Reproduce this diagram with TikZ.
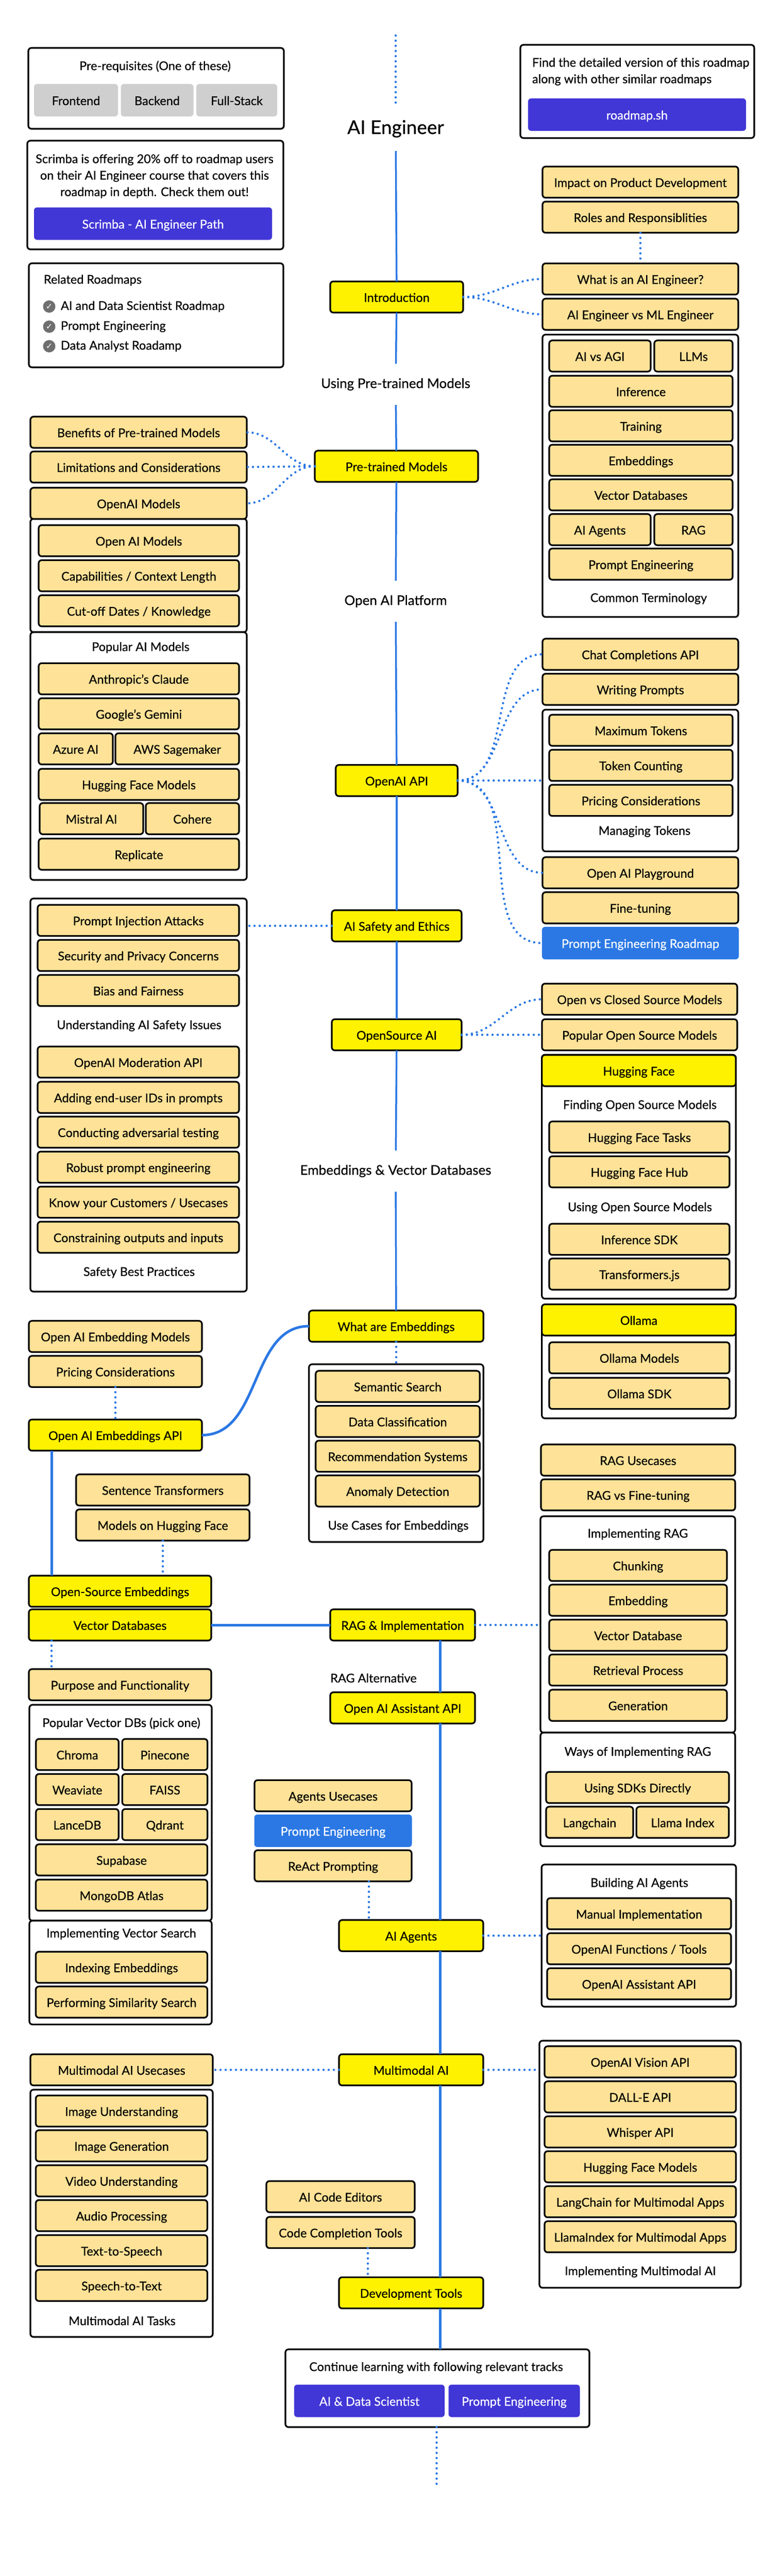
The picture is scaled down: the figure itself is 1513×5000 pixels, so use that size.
\documentclass[tikz,border=0pt]{standalone}
\usepackage{fontspec}
\setmainfont{Lato}[FakeBold=0.5]
\newfontfamily\symb{DejaVu Sans}
\usetikzlibrary{arrows,calc}

\definecolor{roadblue}{HTML}{2B78E4}
\definecolor{roadindigo}{HTML}{4136D6}
\definecolor{roadsand}{HTML}{FEE297}
\definecolor{roadgrey}{HTML}{CFCFCF}
\definecolor{roadcheck}{HTML}{6F6F6F}

\begin{document}
\begin{tikzpicture}[x=1pt, y=-1pt]
    \tikzstyle{every node}=[font=\fontsize{23.5}{32}\selectfont, outer sep=0pt]
    \tikzstyle{box}=[rectangle, rounded corners=6pt, draw=black, line width=3.2pt, minimum height=60.5, text height=19pt, text depth=0pt, inner sep=0pt]
    \tikzstyle{item}=[box, fill=roadsand]
    \tikzstyle{topic}=[box, fill=yellow]
    \tikzstyle{frame}=[box, fill=white]
    \tikzstyle{chip}=[rectangle, rounded corners=6pt, fill=roadgrey, minimum height=63, text height=19pt, text depth=0pt, inner sep=0pt]
    \tikzstyle{indigo}=[chip, fill=roadindigo, text=white]
    \tikzstyle{sky}=[chip, fill=roadblue, text=white]
    \tikzstyle{caption}=[inner sep=0pt]
    \tikzstyle{heading}=[inner sep=0pt, minimum height=80, font=\fontsize{26}{32}\selectfont]
    \tikzstyle{tick}=[circle, fill=roadcheck, text=white, minimum size=24, inner sep=0pt, font=\fontsize{16}{16}\symb]
    \tikzstyle{spine}=[draw=roadblue, line width=3.5pt]
    \tikzstyle{thickspine}=[draw=roadblue, line width=5pt]
    \tikzstyle{dots}=[draw=roadblue, line width=4.5pt, line cap=round, dash pattern=on 0pt off 10pt]

    \useasboundingbox (0,0) rectangle (1513,5000);

    \node[frame, minimum width=496, minimum height=157] (prereq) at (303,171.5) {};
    \node[caption] (prereqtext) at (301,129) {Pre-requisites (One of these)};
    \node[chip, minimum width=163] (frontend) at (147.5,194.5) {Frontend};
    \node[chip, minimum width=141] (backend) at (305,194.5) {Backend};
    \node[chip, minimum width=157] (fullstack) at (459.5,194.5) {Full-Stack};

    \node[frame, minimum width=454, minimum height=181] (detailed) at (1237,177.5) {};
    \node[caption, align=left, anchor=west] (detailedtext) at (1033,139) {Find the detailed version of this roadmap\\along with other similar roadmaps};
    \node[indigo, minimum width=423] (roadmapsh) at (1236.5,222.5) {roadmap.sh};

    \node[frame, minimum width=497, minimum height=211] (scrimba) at (301.5,378.5) {};
    \node[caption, align=center] (scrimbatext) at (300,342) {Scrimba is offering 20\% off to roadmap users\\on their AI Engineer course that covers this\\roadmap in depth. Check them out!};
    \node[indigo, minimum width=462] (scrimbapath) at (297,434) {Scrimba - AI Engineer Path};

    \node[frame, minimum width=494, minimum height=202] (related) at (303,612) {};
    \node[caption, anchor=west] (relatedtext) at (85,544) {Related Roadmaps};
    \node[tick] (tickA) at (95.5,595) {✓};
    \node[tick] (tickB) at (95.5,634) {✓};
    \node[tick] (tickC) at (95.5,672) {✓};
    \node[caption, anchor=west] (relatedA) at (118,595) {AI and Data Scientist Roadmap};
    \node[caption, anchor=west] (relatedB) at (118,634) {Prompt Engineering};
    \node[caption, anchor=west] (relatedC) at (118,672) {Data Analyst Roadamp};

    \node[heading, minimum height=86, font=\fontsize{37}{40}\selectfont] (title) at (768,250) {AI Engineer};
    \node[topic, minimum width=258] (intro) at (770,576.5) {Introduction};
    \node[heading] (usingmodels) at (768,746) {Using Pre-trained Models};
    \node[topic, minimum width=317] (pretrained) at (769.5,905) {Pre-trained Models};
    \node[heading] (platform) at (768,1167) {Open AI Platform};
    \node[topic, minimum width=236.5] (openaiapi) at (770,1515) {OpenAI API};
    \node[topic, minimum width=252] (safety) at (770,1797) {AI Safety and Ethics};
    \node[topic, minimum width=252] (opensource) at (770,2008.5) {OpenSource AI};
    \node[heading] (embedheading) at (768,2273) {Embeddings \& Vector Databases};
    \node[topic, minimum width=338.5] (whatemb) at (769,2574) {What are Embeddings};

    \node[item, minimum width=380] (impact) at (1243,353.5) {Impact on Product Development};
    \node[item, minimum width=380] (roles) at (1243,421.5) {Roles and Responsiblities};
    \node[item, minimum width=380] (whatis) at (1243,541.5) {What is an AI Engineer?};
    \node[item, minimum width=380] (mlvs) at (1243,610) {AI Engineer vs ML Engineer};

    \node[frame, minimum width=380, minimum height=548] (terms) at (1243,923.5) {};
    \node[item, minimum width=197] (aivsagi) at (1164.5,691) {AI vs AGI};
    \node[item, minimum width=152] (llms) at (1346,691) {LLMs};
    \node[item, minimum width=356] (inference) at (1244,759.5) {Inference};
    \node[item, minimum width=356] (training) at (1244,826.5) {Training};
    \node[item, minimum width=356] (embeddings) at (1244,893.5) {Embeddings};
    \node[item, minimum width=356] (vectordbs) at (1244,960.5) {Vector Databases};
    \node[item, minimum width=197] (aiagentsT) at (1164.5,1028) {AI Agents};
    \node[item, minimum width=152] (ragT) at (1346,1028) {RAG};
    \node[item, minimum width=356] (promptT) at (1244,1095) {Prompt Engineering};
    \node[caption] (termstext) at (1259,1162) {Common Terminology};

    \node[item, minimum width=420] (benefits) at (269,839) {Benefits of Pre-trained Models};
    \node[item, minimum width=420] (limits) at (269,906.5) {Limitations and Considerations};
    \node[frame, minimum width=420, minimum height=220] (openaiframe) at (269,1117) {};
    \node[item, minimum width=420] (openaimodels) at (269,977) {OpenAI Models};
    \node[item, minimum width=389] (openmodels) at (269.5,1049.5) {Open AI Models};
    \node[item, minimum width=389] (capabilities) at (269.5,1117.5) {Capabilities / Context Length};
    \node[item, minimum width=389] (cutoff) at (269.5,1185.5) {Cut-off Dates / Knowledge};

    \node[frame, minimum width=420, minimum height=481] (popular) at (269,1467.5) {};
    \node[caption] (populartext) at (273,1257) {Popular AI Models};
    \node[item, minimum width=389] (anthropic) at (269.5,1317.5) {Anthropic's Claude};
    \node[item, minimum width=389] (gemini) at (269.5,1385.5) {Google's Gemini};
    \node[item, minimum width=144] (azure) at (147,1453.5) {Azure AI};
    \node[item, minimum width=240] (aws) at (344,1453.5) {AWS Sagemaker};
    \node[item, minimum width=389] (hfmodelsA) at (269.5,1522.5) {Hugging Face Models};
    \node[item, minimum width=201] (mistral) at (177.5,1589) {Mistral AI};
    \node[item, minimum width=181] (cohere) at (373.5,1589) {Cohere};
    \node[item, minimum width=389] (replicate) at (269.5,1658) {Replicate};

    \node[item, minimum width=380] (chat) at (1243,1270) {Chat Completions API};
    \node[item, minimum width=380] (writing) at (1243,1338) {Writing Prompts};
    \node[frame, minimum width=380, minimum height=275] (tokens) at (1243,1515) {};
    \node[item, minimum width=356] (maxtokens) at (1244,1417.5) {Maximum Tokens};
    \node[item, minimum width=356] (counting) at (1244,1485.5) {Token Counting};
    \node[item, minimum width=356] (pricing) at (1244,1553.5) {Pricing Considerations};
    \node[caption] (tokenstext) at (1251,1614) {Managing Tokens};
    \node[item, minimum width=380] (playground) at (1243,1694) {Open AI Playground};
    \node[item, minimum width=380] (finetuning) at (1243,1762) {Fine-tuning};
    \node[sky, minimum width=382] (promptroad) at (1243,1830.5) {Prompt Engineering Roadmap};

    \node[frame, minimum width=420, minimum height=763] (safetyframe) at (269,2125.5) {};
    \node[item, minimum width=391] (injection) at (268.5,1786.5) {Prompt Injection Attacks};
    \node[item, minimum width=391] (security) at (268.5,1854.5) {Security and Privacy Concerns};
    \node[item, minimum width=391] (bias) at (268.5,1922.5) {Bias and Fairness};
    \node[caption] (issuestext) at (270,1991) {Understanding AI Safety Issues};
    \node[item, minimum width=391] (moderation) at (268.5,2061.5) {OpenAI Moderation API};
    \node[item, minimum width=391] (adding) at (268.5,2130) {Adding end-user IDs in prompts};
    \node[item, minimum width=391] (conducting) at (268.5,2197.5) {Conducting adversarial testing};
    \node[item, minimum width=391] (robust) at (268.5,2265.5) {Robust prompt engineering};
    \node[item, minimum width=391] (know) at (268.5,2333.5) {Know your Customers / Usecases};
    \node[item, minimum width=391] (constraining) at (268.5,2401.5) {Constraining outputs and inputs};
    \node[caption] (practicestext) at (270,2470) {Safety Best Practices};

    \node[item, minimum width=379] (openclosed) at (1241.5,1939.5) {Open vs Closed Source Models};
    \node[item, minimum width=379] (popularopen) at (1241.5,2008.5) {Popular Open Source Models};

    \node[frame, minimum width=376.5, minimum height=473.5] (hfframe) at (1240,2284) {};
    \node[topic, minimum width=376.5] (hugging) at (1240,2078) {Hugging Face};
    \node[caption] (findingtext) at (1242,2146) {Finding Open Source Models};
    \node[item, minimum width=350] (hftasks) at (1241,2207) {Hugging Face Tasks};
    \node[item, minimum width=350] (hfhub) at (1241,2274.5) {Hugging Face Hub};
    \node[caption] (usingtext) at (1242,2344.5) {Using Open Source Models};
    \node[item, minimum width=350] (infersdk) at (1241,2405.5) {Inference SDK};
    \node[item, minimum width=350] (transformers) at (1241,2473) {Transformers.js};

    \node[frame, minimum width=376.5, minimum height=221] (ollamaframe) at (1240,2642.5) {};
    \node[topic, minimum width=376.5] (ollama) at (1240,2562) {Ollama};
    \node[item, minimum width=350] (ollamamodels) at (1241,2635.5) {Ollama Models};
    \node[item, minimum width=350] (ollamasdk) at (1241,2704.5) {Ollama SDK};

    \node[item, minimum width=336] (openemb) at (224,2594) {Open AI Embedding Models};
    \node[item, minimum width=336] (pricingemb) at (224,2662) {Pricing Considerations};
    \node[topic, minimum width=336] (embapi) at (224,2785.5) {Open AI Embeddings API};

    \node[frame, minimum width=338.5, minimum height=345] (usecases) at (769,2820.5) {};
    \node[item, minimum width=318.5] (semantic) at (772,2691) {Semantic Search};
    \node[item, minimum width=318.5] (dataclass) at (772,2759) {Data Classification};
    \node[item, minimum width=318.5] (recommend) at (772,2826.5) {Recommendation Systems};
    \node[item, minimum width=318.5] (anomaly) at (772,2894) {Anomaly Detection};
    \node[caption] (usecasestext) at (773,2962.5) {Use Cases for Embeddings};

    \node[item, minimum width=336.5] (sentence) at (316,2892) {Sentence Transformers};
    \node[item, minimum width=336.5] (hfmodelsB) at (316,2960) {Models on Hugging Face};
    \node[topic, minimum width=354] (oss) at (233,3088.5) {Open-Source Embeddings};
    \node[topic, minimum width=354] (vector) at (233,3154) {Vector Databases};
    \node[topic, minimum width=281] (ragimpl) at (781.5,3154) {RAG \& Implementation};
    \node[caption] (ragalt) at (725,3257) {RAG Alternative};
    \node[topic, minimum width=281] (assistant) at (781.5,3315) {Open AI Assistant API};

    \node[item, minimum width=354] (purpose) at (233,3270) {Purpose and Functionality};
    \node[frame, minimum width=354, minimum height=419] (vectorframe) at (234,3518.5) {};
    \node[caption] (vectortext) at (235.5,3345) {Popular Vector DBs (pick one)};
    \node[item, minimum width=160.5] (chroma) at (150,3405.5) {Chroma};
    \node[item, minimum width=165.5] (pinecone) at (320,3405.5) {Pinecone};
    \node[item, minimum width=160.5] (weaviate) at (150,3473.5) {Weaviate};
    \node[item, minimum width=165.5] (faiss) at (320,3473.5) {FAISS};
    \node[item, minimum width=160.5] (lancedb) at (150,3541.5) {LanceDB};
    \node[item, minimum width=165.5] (qdrant) at (320,3541.5) {Qdrant};
    \node[item, minimum width=333] (supabase) at (236,3610) {Supabase};
    \node[item, minimum width=333] (mongodb) at (236,3678.5) {MongoDB Atlas};
    \node[frame, minimum width=354, minimum height=201.4] (searchframe) at (234,3828.7) {};
    \node[caption] (searchtext) at (235.5,3754) {Implementing Vector Search};
    \node[item, minimum width=333] (indexing) at (236,3818.5) {Indexing Embeddings};
    \node[item, minimum width=333] (similarity) at (236,3886) {Performing Similarity Search};

    \node[item, minimum width=377] (ragusecases) at (1238.5,2834) {RAG Usecases};
    \node[item, minimum width=377] (ragfine) at (1238.5,2901.5) {RAG vs Fine-tuning};
    \node[frame, minimum width=378, minimum height=420] (ragframe) at (1238,3153) {};
    \node[caption] (ragtext) at (1238,2978) {Implementing RAG};
    \node[item, minimum width=345] (chunking) at (1238.5,3038.5) {Chunking};
    \node[item, minimum width=345] (embedding) at (1238.5,3106) {Embedding};
    \node[item, minimum width=345] (vectordb) at (1238.5,3174) {Vector Database};
    \node[item, minimum width=345] (retrieval) at (1238.5,3241.5) {Retrieval Process};
    \node[item, minimum width=345] (generation) at (1238.5,3310) {Generation};
    \node[frame, minimum width=378, minimum height=220.6] (waysframe) at (1238,3473.3) {};
    \node[caption] (waystext) at (1238,3401.5) {Ways of Implementing RAG};
    \node[item, minimum width=355] (sdks) at (1237.5,3469.5) {Using SDKs Directly};
    \node[item, minimum width=169] (langchain) at (1144.5,3537) {Langchain};
    \node[item, minimum width=179.5] (llamaindex) at (1325,3537) {Llama Index};

    \node[item, minimum width=305] (agentsuse) at (646.5,3485.5) {Agents Usecases};
    \node[sky, minimum width=306] (promptblue) at (646.5,3553.5) {Prompt Engineering};
    \node[item, minimum width=305] (react) at (646.5,3621.5) {ReAct Prompting};
    \node[topic, minimum width=280] (aiagents) at (798,3757) {AI Agents};

    \node[frame, minimum width=377.5, minimum height=276] (building) at (1240,3757) {};
    \node[caption] (buildingtext) at (1241,3656) {Building AI Agents};
    \node[item, minimum width=357] (manual) at (1240.5,3714.5) {Manual Implementation};
    \node[item, minimum width=357] (functions) at (1240.5,3782.5) {OpenAI Functions / Tools};
    \node[item, minimum width=357] (assistantB) at (1240.5,3850.5) {OpenAI Assistant API};

    \node[topic, minimum width=280] (multimodal) at (798,4017.5) {Multimodal AI};
    \node[item, minimum width=354] (mmuse) at (236,4017.5) {Multimodal AI Usecases};
    \node[frame, minimum width=354, minimum height=480] (mmtasks) at (236,4296) {};
    \node[item, minimum width=333] (imageU) at (236,4097.5) {Image Understanding};
    \node[item, minimum width=333] (imageG) at (236,4165) {Image Generation};
    \node[item, minimum width=333] (video) at (236,4233) {Video Understanding};
    \node[item, minimum width=333] (audio) at (236,4300.5) {Audio Processing};
    \node[item, minimum width=333] (tts) at (236,4368.5) {Text-to-Speech};
    \node[item, minimum width=333] (stt) at (236,4436) {Speech-to-Text};
    \node[caption] (mmtaskstext) at (237,4504.5) {Multimodal AI Tasks};

    \node[frame, minimum width=391, minimum height=479.5] (mmimpl) at (1242.5,4200.7) {};
    \node[item, minimum width=371.5] (vision) at (1242.7,4002) {OpenAI Vision API};
    \node[item, minimum width=371.5] (dalle) at (1242.7,4070) {DALL-E API};
    \node[item, minimum width=371.5] (whisper) at (1242.7,4138) {Whisper API};
    \node[item, minimum width=371.5] (hfmodelsC) at (1242.7,4205.7) {Hugging Face Models};
    \node[item, minimum width=371.5] (langchainmm) at (1242.7,4273.5) {LangChain for Multimodal Apps};
    \node[item, minimum width=371.5] (llamamm) at (1242.7,4341.5) {LlamaIndex for Multimodal Apps};
    \node[caption] (mmimpltext) at (1243,4409.6) {Implementing Multimodal AI};

    \node[item, minimum width=288] (editors) at (661,4263.7) {AI Code Editors};
    \node[item, minimum width=288] (completion) at (661,4333.2) {Code Completion Tools};
    \node[topic, minimum width=280] (devtools) at (798,4450.3) {Development Tools};

    \node[frame, minimum width=590, minimum height=151] (continue) at (849,4635.5) {};
    \node[caption] (continuetext) at (846.5,4595.6) {Continue learning with following relevant tracks};
    \node[indigo, minimum width=292] (datasci) at (717,4660) {AI \& Data Scientist};
    \node[indigo, minimum width=255] (promptB) at (998,4660) {Prompt Engineering};

    \coordinate (topstart) at (768,69);
    \coordinate (endstop) at (847.5,4822);
    \coordinate (lowerspine) at (854,0);
    \coordinate (leftspine) at (100,0);
    \coordinate (agentdots) at (716,0);
    \coordinate (devdots) at (714,0);

    \draw[dots] (topstart) -- (title);
    \draw[spine] (title) -- (intro);
    \draw[spine] (intro) -- (usingmodels);
    \draw[spine] (usingmodels) -- (pretrained);
    \draw[spine] (pretrained) -- (platform);
    \draw[spine] (platform) -- (openaiapi);
    \draw[spine] (openaiapi) -- (safety);
    \draw[spine] (safety) -- (opensource);
    \draw[spine] (opensource) -- (embedheading);
    \draw[spine] (embedheading) -- (whatemb);

    \draw[dots] (roles) -- (whatis);
    \draw[dots] (intro.east) to[out=0, in=180] (whatis.west);
    \draw[dots] (intro.east) to[out=0, in=180] (mlvs.west);

    \draw[dots] (pretrained.west) to[out=180, in=0] (benefits.east);
    \draw[dots] (pretrained.west) -- (limits.east);
    \draw[dots] (pretrained.west) to[out=180, in=0] (openaimodels.east);

    \draw[dots] (openaiapi.east) to[out=0, in=180] (chat.west);
    \draw[dots] (openaiapi.east) to[out=0, in=180] (writing.west);
    \draw[dots] (openaiapi.east) -- (tokens.west);
    \draw[dots] (openaiapi.east) to[out=0, in=180] (playground.west);
    \draw[dots] (openaiapi.east) to[out=0, in=180] (promptroad.west);

    \draw[dots] (safety.west) -- (safety.west -| safetyframe.east);
    \draw[dots] (opensource.east) to[out=0, in=180] (openclosed.west);
    \draw[dots] (opensource.east) -- (popularopen.west);

    \draw[thickspine] (embapi.east) to[out=0, in=180] (whatemb.west);
    \draw[dots] (whatemb) -- (usecases);
    \draw[dots] (pricingemb) -- (embapi);
    \draw[thickspine] (embapi.south -| leftspine) -- (oss.north -| leftspine);
    \draw[dots] (hfmodelsB) -- (oss.north -| hfmodelsB);
    \draw[thickspine] (vector) -- (ragimpl);
    \draw[dots] (vector.south -| leftspine) -- (purpose.north -| leftspine);
    \draw[dots] (ragimpl.east) -- (ragimpl.east -| ragframe.west);

    \draw[thickspine] (ragimpl.south -| lowerspine) -- (assistant.north -| lowerspine);
    \draw[thickspine] (assistant.south -| lowerspine) -- (aiagents.north -| lowerspine);
    \draw[thickspine] (aiagents.south -| lowerspine) -- (multimodal.north -| lowerspine);
    \draw[thickspine] (multimodal.south -| lowerspine) -- (devtools.north -| lowerspine);
    \draw[thickspine] (devtools.south -| lowerspine) -- (continue.north -| lowerspine);

    \draw[dots] (react.south -| agentdots) -- (aiagents.north -| agentdots);
    \draw[dots] (aiagents.east) -- (building.west);
    \draw[dots] (multimodal.west) -- (mmuse.east);
    \draw[dots] (multimodal.east) -- (multimodal.east -| mmimpl.west);
    \draw[dots] (completion.south -| devdots) -- (devtools.north -| devdots);
    \draw[dots] (continue.south -| endstop) -- (endstop);
\end{tikzpicture}
\end{document}
